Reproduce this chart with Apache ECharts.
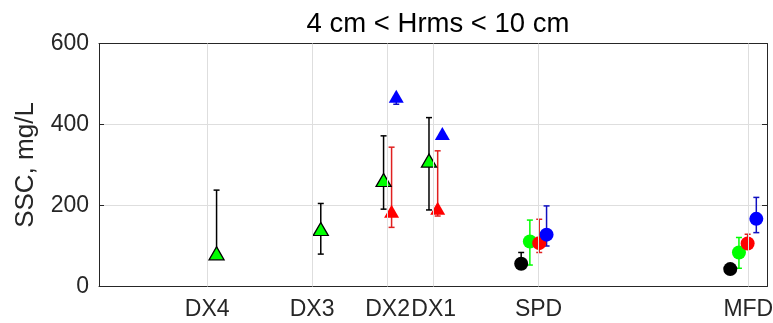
<!DOCTYPE html>
<html>
<head>
<meta charset="utf-8">
<script src="https://cdn.jsdelivr.net/npm/echarts@6/dist/echarts.min.js"></script>
<style>
  html, body { margin: 0; padding: 0; background: #fff; }
  #chart { width: 773px; height: 323px; }
</style>
</head>
<body>
<div id="chart"></div>
<script>
const stations = ["DX4", "DX3", "DX2", "DX1", "SPD", "MFD"];
const stationX = [16.2, 31.9, 43.2, 50.1, 65.8, 97.2];
const yTicks = [0, 200, 400, 600];

// x position, SSC value, lower / upper end of bar (null = none)
const blackX  = [null, null, null, null, 63.2, 94.5];
const blackY  = [null, null, null, null, 56, 43];
const blackLo = [null, null, null, null, 56, null];
const blackHi = [null, null, null, null, 84, null];

const greenX  = [17.6, 33.2, 42.6, 49.4, 64.5, 95.8];
const greenY  = [82, 142, 263, 311, 111, 84];
const greenLo = [82, 80, 191, 189, 53, 45];
const greenHi = [238, 205, 372, 417, 164, 121];

const redX  = [null, null, 43.8, 50.7, 65.9, 97.1];
const redY  = [null, null, 186, 193, 107, 106];
const redLo = [null, null, 146, 174, 84, null];
const redHi = [null, null, 344, 335, 166, 129];

const blueX  = [null, null, 44.5, 51.4, 67.0, 98.4];
const blueY  = [null, null, 470, 378, 128, 167];
const blueLo = [null, null, 450, null, 100, 133];
const blueHi = [null, null, null, null, 199, 220];

const groups = [
  { name: "black", color: "#000000", x: blackX, y: blackY, lo: blackLo, hi: blackHi },
  { name: "green", color: "#00ff00", x: greenX, y: greenY, lo: greenLo, hi: greenHi },
  { name: "red",   color: "#ff0000", x: redX,   y: redY,   lo: redLo,   hi: redHi },
  { name: "blue",  color: "#0000ff", x: blueX,  y: blueY,  lo: blueLo,  hi: blueHi },
];

const font = "Liberation Sans, Arial, Helvetica, sans-serif";
const textColor = "#262626";

function isDX(i) { return i < 4; }

function barColor(g, i) {
  // green triangles carry black bars
  if (g.name === "green" && isDX(i)) return "#000000";
  if (g.name === "red") return "#e02020";
  if (g.name === "blue") return "#1010c0";
  return g.color;
}

const series = [];

// vertical grid lines at the stations
series.push({
  type: "scatter",
  data: [],
  z: 1,
  silent: true,
  markLine: {
    silent: true,
    symbol: ["none", "none"],
    label: { show: false },
    lineStyle: { color: "#dedede", width: 1, type: "solid" },
    data: stationX.map(v => ({ xAxis: v })),
    animation: false,
  },
});

groups.forEach(g => {
  const bars = [];
  const marks = [];
  g.x.forEach((x, i) => {
    if (x == null) return;
    const v = g.y[i];
    const lo = g.lo[i] == null ? v : g.lo[i];
    const hi = g.hi[i] == null ? v : g.hi[i];
    if (lo !== hi) {
      bars.push({ value: [x, lo, hi, g.lo[i] != null ? 1 : 0, g.hi[i] != null ? 1 : 0], itemStyle: { color: barColor(g, i) } });
    }
    const tri = isDX(i);
    marks.push({
      value: [x, v],
      symbol: tri ? "triangle" : "circle",
      symbolSize: tri ? [15, 13] : 14,
      itemStyle: {
        color: g.color,
        opacity: 1,
        borderColor: tri && g.name === "green" ? "#000000" : g.color,
        borderWidth: tri && g.name === "green" ? 1.3 : 0,
      },
    });
  });

  series.push({
    type: "custom",
    name: g.name + " bars",
    z: 2,
    data: bars,
    encode: { x: 0, y: [1, 2] },
    renderItem(params, api) {
      const x = api.value(0);
      const p1 = api.coord([x, api.value(1)]);
      const p2 = api.coord([x, api.value(2)]);
      const c = api.visual("color");
      const cap = 3;
      const style = { stroke: c, lineWidth: 1.5 };
      const children = [
        { type: "line", shape: { x1: p1[0], y1: p1[1], x2: p2[0], y2: p2[1] }, style },
      ];
      if (api.value(3)) children.push({ type: "line", shape: { x1: p1[0] - cap, y1: p1[1], x2: p1[0] + cap, y2: p1[1] }, style });
      if (api.value(4)) children.push({ type: "line", shape: { x1: p2[0] - cap, y1: p2[1], x2: p2[0] + cap, y2: p2[1] }, style });
      return { type: "group", children };
    },
  });

  series.push({
    type: "scatter",
    name: g.name,
    z: 3,
    itemStyle: { opacity: 1 },
    data: marks,
  });
});

const chart = echarts.init(document.getElementById("chart"));
chart.setOption({
  animation: false,
  backgroundColor: "#ffffff",
  title: {
    text: "4 cm < Hrms < 10 cm",
    left: 433,
    textAlign: "center",
    top: 5,
    textStyle: { fontFamily: font, fontSize: 27.5, fontWeight: "normal", color: "#000000" },
  },
  grid: { left: 99, right: 6, top: 43.5, bottom: 36.5, outerBoundsMode: "none" },
  xAxis: [
    {
      type: "value",
      min: 0,
      max: 100,
      axisLine: { show: true, lineStyle: { color: textColor, width: 1 } },
      axisTick: { show: true, inside: true, length: 5, customValues: stationX, lineStyle: { color: textColor } },
      axisLabel: {
        customValues: stationX,
        margin: 12,
        hideOverlap: false,
        fontFamily: font,
        fontSize: 23,
        color: textColor,
        formatter: v => {
          let k = 0;
          stationX.forEach((s, i) => { if (Math.abs(s - v) < Math.abs(stationX[k] - v)) k = i; });
          return stations[k];
        },
      },
      splitLine: { show: false },
    },
    {
      type: "value",
      position: "top",
      min: 0,
      max: 100,
      axisLine: { show: true, onZero: false, lineStyle: { color: textColor, width: 1 } },
      axisTick: { show: true, inside: true, length: 5, customValues: stationX, lineStyle: { color: textColor } },
      axisLabel: { show: false },
      splitLine: { show: false },
    },
  ],
  yAxis: [
    {
      type: "value",
      min: 0,
      max: 600,
      interval: 200,
      name: "SSC, mg/L",
      nameLocation: "middle",
      nameGap: 60,
      nameTextStyle: { fontFamily: font, fontSize: 26, color: textColor },
      axisLine: { show: true, lineStyle: { color: textColor, width: 1 } },
      axisTick: { show: true, inside: true, length: 5, lineStyle: { color: textColor } },
      axisLabel: {
        customValues: yTicks,
        margin: 10,
        fontFamily: font,
        fontSize: 23,
        color: textColor,
      },
      splitLine: { show: true, lineStyle: { color: "#dedede", width: 1 } },
    },
    {
      type: "value",
      position: "right",
      min: 0,
      max: 600,
      interval: 200,
      axisLine: { show: true, onZero: false, lineStyle: { color: textColor, width: 1 } },
      axisTick: { show: true, inside: true, length: 5, lineStyle: { color: textColor } },
      axisLabel: { show: false },
      splitLine: { show: false },
    },
  ],
  series: series,
});
</script>
</body>
</html>
